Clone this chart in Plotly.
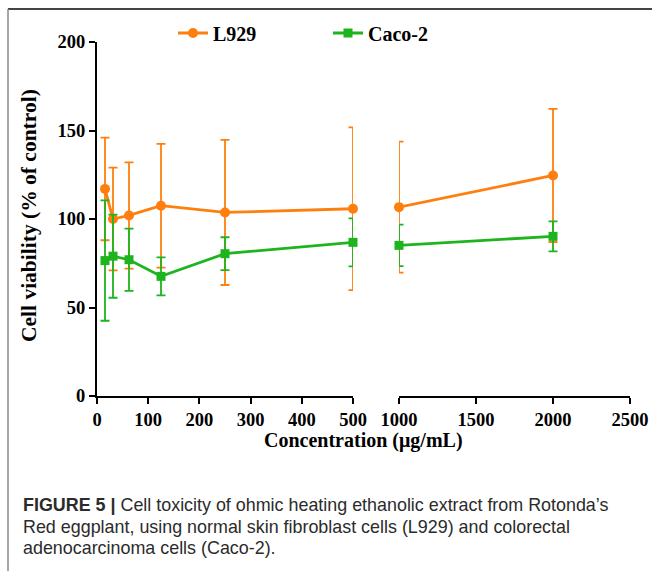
import plotly.graph_objects as go

# Data
conc_low = [15.6, 31.25, 62.5, 125, 250, 500]
conc_high = [1000, 2000]
l929_mean = [117, 100, 102, 107.5, 103.7, 105.8, 106.7, 124.6]
l929_sd = [29, 29, 30, 35, 41, 46, 37, 37.6]
caco_mean = [76.5, 79, 77, 67.6, 80.4, 86.8, 85.1, 90.2]
caco_sd = [34, 23.5, 17.6, 10.7, 9.3, 13.6, 11.7, 8.5]
y_ticks = [0, 50, 100, 150, 200]
x_ticks_low = [0, 100, 200, 300, 400, 500]
x_ticks_high = [1000, 1500, 2000, 2500]

ORANGE = "#FF7F0E"
GREEN = "#1DB41D"
SERIF = "Liberation Serif, Times New Roman, serif"

W, H = 652, 571
L, R, T, B = 97, 22, 42, 175
pw, ph = W - L - R, H - T - B

def px(x):
    return (x - L) / pw

def py(y):
    return (H - B - y) / ph

n = len(conc_low)
series = [
    ("L929", l929_mean, l929_sd, ORANGE, "circle"),
    ("Caco-2", caco_mean, caco_sd, GREEN, "square"),
]

fig = go.Figure()
for name, mean, sd, color, sym in series:
    for xs, ys, es, xa, show in [
        (conc_low, mean[:n], sd[:n], "x", True),
        (conc_high, mean[n:], sd[n:], "x2", False),
    ]:
        fig.add_trace(go.Scatter(
            x=xs, y=ys, xaxis=xa, yaxis="y", name=name, legendgroup=name,
            showlegend=show, mode="lines+markers", cliponaxis=False,
            line=dict(color=color, width=2.8),
            marker=dict(color=color, size=10 if sym == "circle" else 9, symbol=sym),
            error_y=dict(type="data", array=es, visible=True, color=color,
                         thickness=1.8, width=4.5),
        ))

tickfont = dict(family=SERIF, size=18.5, color="black", weight="bold")
axis_common = dict(showline=True, linecolor="black", linewidth=2, ticks="outside",
                   ticklen=6, tickwidth=2, tickcolor="black", showgrid=False,
                   zeroline=False, tickfont=tickfont, automargin=False)

fig.update_layout(
    width=W, height=H,
    margin=dict(l=L, r=R, t=T, b=B, autoexpand=False),
    plot_bgcolor="white", paper_bgcolor="white",
    xaxis=dict(domain=[0, px(353)], range=[0, 500], tickvals=x_ticks_low, anchor="y", **axis_common),
    xaxis2=dict(domain=[px(399), 1], range=[1000, 2500], tickvals=x_ticks_high, anchor="y", **axis_common),
    yaxis=dict(range=[0, 200], tickvals=y_ticks, anchor="x", **axis_common),
    legend=dict(orientation="h", x=px(173), y=py(33), xanchor="left", yanchor="middle",
                font=dict(family=SERIF, size=20, color="black", weight="bold"),
                entrywidth=110, bgcolor="rgba(0,0,0,0)"),
    showlegend=True,
)

annotations = [
    dict(text="Concentration (μg/mL)", x=px(363), y=py(440), xref="paper", yref="paper",
         showarrow=False, xanchor="center", yanchor="middle",
         font=dict(family=SERIF, size=20, color="black", weight="bold")),
    dict(text="Cell viability (% of control)", x=px(29), y=py(216), xref="paper", yref="paper",
         showarrow=False, xanchor="center", yanchor="middle", textangle=-90,
         font=dict(family=SERIF, size=21.5, color="black", weight="bold")),
]
cap_font = dict(family="Liberation Sans Narrow, Arial Narrow, Liberation Sans, Arial, sans-serif",
                size=17.9, color="#2b2b2b")
caption_lines = [
    "<b>FIGURE 5 |</b> Cell toxicity of ohmic heating ethanolic extract from Rotonda’s",
    "Red eggplant, using normal skin fibroblast cells (L929) and colorectal",
    "adenocarcinoma cells (Caco-2).",
]
for i, line in enumerate(caption_lines):
    annotations.append(dict(text=line, x=px(21), y=py(505 + 21.7 * i), xref="paper", yref="paper",
                            showarrow=False, xanchor="left", yanchor="middle", align="left",
                            font=cap_font))
fig.update_layout(annotations=annotations)

fig.add_shape(type="line", xref="paper", yref="paper", x0=px(8), x1=px(652), y0=py(9), y1=py(9),
              line=dict(color="#444444", width=2))
fig.add_shape(type="line", xref="paper", yref="paper", x0=px(8), x1=px(8), y0=py(9), y1=py(571),
              line=dict(color="#888888", width=1.5))

fig.write_html("out.html")
